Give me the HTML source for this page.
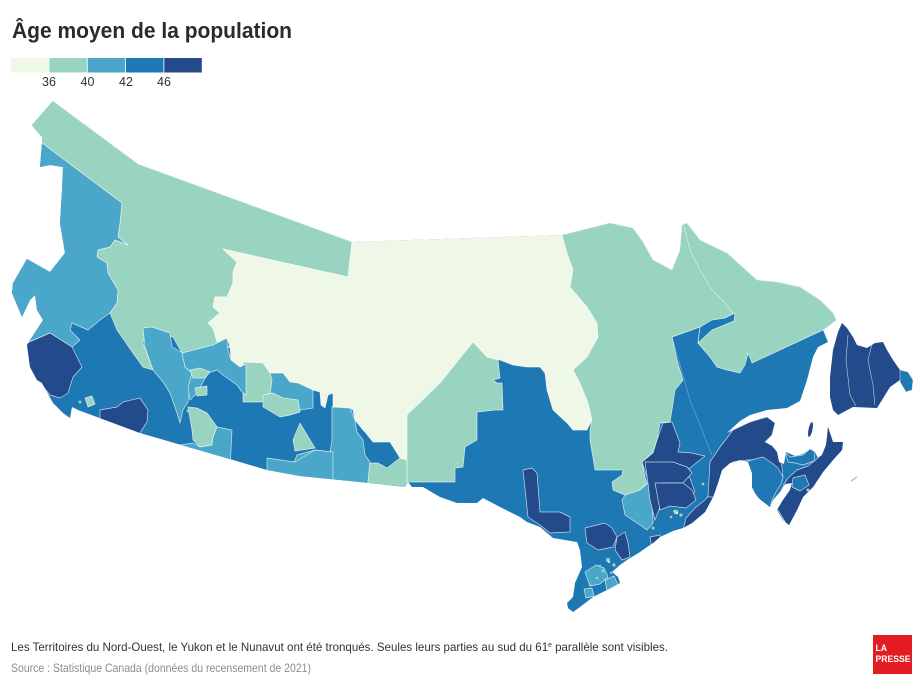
<!DOCTYPE html>
<html><head><meta charset="utf-8">
<style>
html,body{margin:0;padding:0;background:#fff;}
svg{display:block;}
.r{stroke:#fff;stroke-width:0.7;stroke-opacity:0.75;stroke-linejoin:round;}
</style></head>
<body>
<svg width="924" height="686" viewBox="0 0 924 686" xmlns="http://www.w3.org/2000/svg" font-family="'Liberation Sans', sans-serif">
<defs>
<clipPath id="c"><path d="M32,125 L53,101 138,164 352,242 562,235 610,223 633,228 643,242 653,260 672,270 680,250 682,225 687,223 700,240 727,253 757,280 777,282 800,287 820,300 833,313 836,320 823,330 828,342 818,347 813,357 807,380 800,401 787,408 767,410 750,415 740,421 727,433 735,429 750,422 767,417 775,423 772,435 765,442 772,446 777,452 779,462 784,464 786,452 795,456 803,454 810,449 815,452 818,458 822,455 826,445 827,437 828,427 833,442 843,442 842,450 833,460 823,472 813,487 803,497 797,510 789,525 783,520 777,510 783,500 790,490 792,483 785,484 780,492 773,500 770,507 757,497 752,487 752,473 748,462 740,460 730,463 722,470 718,483 713,497 705,512 692,523 683,528 673,531 660,537 653,543 640,552 627,560 620,565 612,572 618,577 620,583 607,590 593,597 580,607 573,612 568,608 567,603 573,597 575,583 582,567 580,550 577,542 553,538 540,527 527,522 520,517 500,507 483,498 477,503 457,503 440,497 423,487 412,487 408,482 405,487 360,482 300,476 267,470 233,460 140,433 78,410 72,407 70,418 63,413 53,403 42,383 37,380 30,367 27,345 32,337 43,320 37,310 35,295 30,300 22,317 12,293 13,283 27,259 50,272 65,253 60,223 62,190 63,167 50,165 40,167 42,143 42,137 35,129 Z"/></clipPath>
</defs>

<!-- Title -->
<text x="12" y="38" font-size="22" font-weight="bold" fill="#2b2b2b" textLength="280" lengthAdjust="spacingAndGlyphs">Âge moyen de la population</text>

<!-- Legend -->
<rect x="11" y="58" width="37.5" height="14.5" fill="#eff7e6"/>
<rect x="49.3" y="58" width="37.5" height="14.5" fill="#98d4bf"/>
<rect x="87.7" y="58" width="37.5" height="14.5" fill="#4aa7c9"/>
<rect x="126" y="58" width="37.5" height="14.5" fill="#1e78b4"/>
<rect x="164.3" y="58" width="37.5" height="14.5" fill="#234b8b"/>
<g font-size="12.5" fill="#333" text-anchor="middle">
<text x="49" y="86">36</text>
<text x="87.5" y="86">40</text>
<text x="126" y="86">42</text>
<text x="164" y="86">46</text>
</g>

<!-- Map -->
<g clip-path="url(#c)">
<rect x="0" y="90" width="924" height="540" fill="#1e78b4"/>

<!-- West mint -->
<polygon class="r" fill="#98d4bf" points="53,101 138,164 352,242 348,277 223,249 237,262 233,272 233,283 227,297 215,297 213,307 220,313 208,323 213,328 217,340 230,347 217,353 207,357 192,353 182,353 173,337 147,328 143,343 153,370 143,367 133,353 117,330 110,313 117,303 118,290 108,273 107,263 97,257 98,250 110,247 115,240 128,245 118,237 120,223 122,203 42,143 20,120"/>
<!-- BC NW light blue -->
<polygon class="r" fill="#4aa7c9" points="42,143 122,203 120,223 118,237 128,245 115,240 110,247 98,250 97,257 107,263 108,273 118,290 117,303 110,313 100,320 88,330 72,323 70,330 80,340 72,347 50,333 27,343 0,300 0,140"/>
<!-- Pale north -->
<polygon class="r" fill="#eff7e6" points="352,242 562,235 567,253 573,270 570,287 587,307 597,323 598,337 587,357 573,370 580,383 588,403 592,420 587,430 573,430 567,423 553,410 547,390 545,373 540,367 527,367 513,365 500,360 487,357 473,342 440,383 407,415 407,460 400,458 390,442 373,442 365,432 363,430 355,420 353,410 350,408 333,407 333,393 328,395 325,408 321,405 320,392 313,390 298,383 290,382 283,373 272,377 270,373 263,363 250,362 247,362 240,367 231,360 230,347 227,338 217,342 213,328 208,323 220,313 213,307 215,297 227,297 233,283 233,272 237,262 223,249 348,277"/>
<!-- Manitoba mint -->
<polygon class="r" fill="#98d4bf" points="473,342 487,357 498,360 500,378 493,380 497,383 502,383 503,410 495,410 477,412 477,440 465,447 463,467 455,468 455,482 407,482 407,415 440,383"/>
<polygon class="r" fill="#98d4bf" points="370,463 378,463 387,468 400,458 407,460 407,487 367,487"/>
<!-- Sask east light blue -->
<polygon class="r" fill="#4aa7c9" points="332,407 350,408 355,420 357,432 363,440 365,455 370,462 367,490 330,490 295,490 293,465 297,455 315,450 330,452 332,440"/>
<polygon class="r" fill="#4aa7c9" points="267,458 295,462 315,450 333,452 333,490 267,490"/>
<polygon class="r" fill="#98d4bf" points="300,423 315,448 295,451 293,440"/>
<!-- Sask west -->
<polygon class="r" fill="#4aa7c9" points="270,373 283,373 290,382 298,383 313,390 313,408 300,410 280,400 270,398"/>
<polygon class="r" fill="#98d4bf" points="243,362 263,363 270,373 272,380 270,395 262,402 243,402"/>
<polygon class="r" fill="#98d4bf" points="263,395 273,393 283,398 298,400 300,412 290,415 280,417 263,407"/>
<!-- Alberta -->
<polygon class="r" fill="#4aa7c9" points="143,328 152,327 170,333 172,347 183,353 185,367 192,373 190,387 188,402 183,410 180,423 177,413 170,393 163,382 153,370 145,347"/>
<polygon class="r" fill="#4aa7c9" points="182,353 213,345 227,338 228,350 231,360 240,367 246,364 246,395 242,392 237,385 223,375 217,370 208,373 197,393 190,400 188,387 192,373 185,367"/>
<polygon class="r" fill="#98d4bf" points="190,370 200,368 210,372 205,378 193,378"/>
<polygon class="r" fill="#98d4bf" points="195,388 207,386 207,395 197,396"/>
<polygon class="r" fill="#98d4bf" points="188,407 197,408 207,413 217,427 213,437 212,445 200,447 193,440 192,430"/>
<polygon class="r" fill="#4aa7c9" points="180,445 193,443 200,447 212,445 213,437 217,427 232,430 230,470 180,458"/>
<!-- BC south -->
<polygon class="r" fill="#234b8b" points="0,340 27,343 50,333 72,347 82,367 73,377 68,393 60,398 50,395 42,385 0,390"/>
<polygon class="r" fill="#234b8b" points="100,410 117,407 123,402 140,398 148,410 147,422 138,436 100,428"/>
<polygon class="r" fill="#98d4bf" points="85,398 92,396 95,404 88,407"/>
<!-- Quebec mint -->
<polygon class="r" fill="#98d4bf" points="562,235 610,223 633,228 643,242 653,260 672,270 680,250 682,225 687,223 700,240 727,253 757,280 777,282 800,287 820,300 833,313 840,322 823,330 752,363 748,353 745,365 740,373 727,370 717,367 710,357 698,343 700,327 672,337 677,360 683,380 675,390 672,410 670,422 660,423 657,440 653,452 642,462 645,477 647,483 640,490 625,500 625,495 613,490 612,482 622,475 623,470 595,470 590,440 590,430 592,420 588,403 580,383 573,370 587,357 598,337 597,323 587,307 570,287 573,270 567,253"/>
<polygon class="r" fill="#1e78b4" points="698,343 700,327 712,320 725,318 735,313 734,321 722,326 712,330"/>
<polyline points="684,226 690,250 700,270 712,290 722,300 733,313" fill="none" stroke="#fff" stroke-width="0.6" stroke-opacity="0.7"/>
<polyline points="672,337 690,400 712,455" fill="none" stroke="#fff" stroke-width="0.5" stroke-opacity="0.5"/>
<!-- Ontario / Quebec south -->
<polygon class="r" fill="#234b8b" points="523,470 532,468 537,473 540,512 560,512 570,517 570,532 550,533 540,525 528,517"/>
<polygon class="r" fill="#4aa7c9" points="622,500 625,495 640,490 648,483 652,490 653,523 647,530 637,523 625,515"/>
<polygon class="r" fill="#234b8b" points="663,423 672,422 680,443 678,452 692,453 705,456 690,468 678,470 690,478 695,492 685,500 672,498 660,492 652,485 647,477 642,462 653,453 657,440"/>
<polygon class="r" fill="#234b8b" points="645,462 673,462 687,467 692,473 683,483 662,483 660,507 655,520 650,500 648,483"/>
<polygon class="r" fill="#234b8b" points="655,483 683,483 692,490 696,500 686,508 670,506 660,510"/>
<polygon class="r" fill="#234b8b" points="683,530 686,518 695,508 705,500 713,490 720,485 725,480 740,480 740,535"/>
<polygon class="r" fill="#234b8b" points="585,528 597,525 605,523 612,528 617,537 613,547 598,550 587,543"/>
<polygon class="r" fill="#234b8b" points="617,537 625,532 628,543 630,557 622,560 615,550"/>
<polygon class="r" fill="#234b8b" points="650,537 660,535 662,545 652,548"/>
<polygon class="r" fill="#4aa7c9" points="585,572 596,565 604,568 608,577 600,584 590,586"/>
<polygon class="r" fill="#4aa7c9" points="605,580 614,576 618,585 607,591"/>
<polygon class="r" fill="#4aa7c9" points="584,589 592,588 594,596 586,598"/>
<!-- Maritimes -->
<polygon class="r" fill="#234b8b" points="710,462 720,447 733,430 750,422 767,417 775,423 772,435 765,442 773,445 778,453 782,467 783,477 778,475 772,465 763,458 755,460 747,460 733,462 725,468 720,485 715,497 708,497"/>
<polygon class="r" fill="#1e78b4" points="745,462 755,459 763,457 772,463 778,468 783,477 781,484 776,492 772,500 770,508 760,500 752,490 748,477"/>
<polygon class="r" fill="#234b8b" points="775,505 790,530 850,455 848,420 825,420 818,458 808,466 797,470 788,478 784,484 779,496"/>
<polygon class="r" fill="#1e78b4" points="785,452 790,457 803,455 810,449 815,452 814,461 803,465 795,463 788,462"/>
<polygon class="r" fill="#1e78b4" points="793,478 805,475 809,485 800,491 792,487"/>
<!-- city specks -->
<g fill="#98d4bf">
<circle cx="608" cy="560" r="2.2"/><circle cx="614" cy="565" r="1.6"/><circle cx="603" cy="571" r="1.5"/><circle cx="597" cy="578" r="1.4"/><circle cx="590" cy="585" r="1.3"/>
<circle cx="676" cy="512" r="2.4"/><circle cx="681" cy="515" r="1.6"/><circle cx="671" cy="517" r="1.3"/>
<circle cx="653" cy="528" r="1.5"/><circle cx="703" cy="484" r="1.4"/><circle cx="808" cy="490" r="1.6"/>
<circle cx="188" cy="411" r="1.5"/><circle cx="205" cy="371" r="1.4"/><circle cx="410" cy="481" r="1.4"/><circle cx="80" cy="402" r="1.5"/>
<circle cx="600" cy="566" r="1.2"/><circle cx="611" cy="573" r="1.1"/>
</g>
<g fill="#eff7e6">
<circle cx="609" cy="562" r="1"/><circle cx="677" cy="513" r="1.1"/><circle cx="674" cy="511" r="0.8"/>
</g>
</g>

<!-- Newfoundland -->
<polygon fill="#234b8b" points="842,323 847,328 853,337 857,345 867,348 875,343 883,342 887,350 893,360 900,370 908,372 913,380 912,390 900,380 890,387 882,400 877,408 853,407 838,415 833,410 830,397 830,377 833,350 838,332"/>
<polygon fill="#1e78b4" stroke="#fff" stroke-width="0.6" stroke-opacity="0.7" points="900,370 908,372 913,380 912,390 906,392 900,382"/>
<polyline points="848,335 846,360 850,395 856,406" fill="none" stroke="#fff" stroke-width="0.6" stroke-opacity="0.7"/>
<polyline points="872,344 868,360 873,385 875,405" fill="none" stroke="#fff" stroke-width="0.6" stroke-opacity="0.7"/>
<!-- Anticosti -->
<ellipse cx="810.5" cy="429.5" rx="2" ry="7.5" transform="rotate(12 810.5 429.5)" fill="#234b8b"/>
<!-- Sable -->
<path d="M851,481 L857,477" stroke="#98d4bf" stroke-width="1.5"/>

<!-- Footer -->
<text x="11" y="651" font-size="12" fill="#333" textLength="657" lengthAdjust="spacingAndGlyphs">Les Territoires du Nord-Ouest, le Yukon et le Nunavut ont été tronqués. Seules leurs parties au sud du 61<tspan font-size="7" dy="-4">e</tspan><tspan dy="4"> parallèle sont visibles.</tspan></text>
<text x="11" y="672" font-size="12" fill="#8c8c8c" textLength="300" lengthAdjust="spacingAndGlyphs">Source : Statistique Canada (données du recensement de 2021)</text>

<!-- Logo -->
<rect x="873" y="635" width="39" height="39" fill="#e31b23"/>
<text x="875.5" y="651" font-size="9.5" font-weight="bold" fill="#fff" textLength="11.5" lengthAdjust="spacingAndGlyphs">LA</text>
<text x="875.5" y="662" font-size="9.5" font-weight="bold" fill="#fff" textLength="35" lengthAdjust="spacingAndGlyphs">PRESSE</text>
</svg>
</body></html>
